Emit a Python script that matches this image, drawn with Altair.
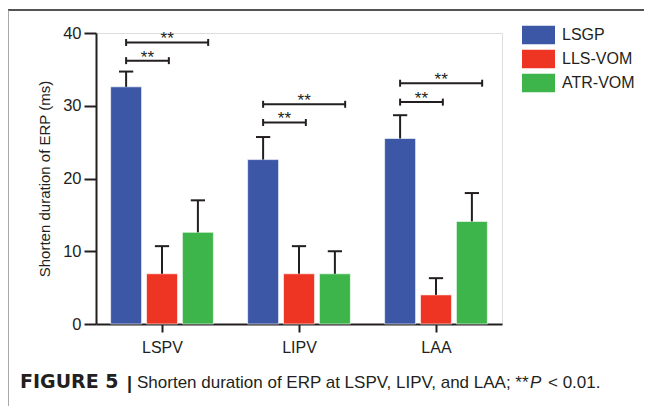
import altair as alt
import pandas as pd

# ---- data ----
sites = ["LSPV", "LIPV", "LAA"]
groups = ["LSGP", "LLS-VOM", "ATR-VOM"]
colors = ["#3D57A7", "#EE3524", "#3DB54A"]

mean_lsgp = [32.6, 22.6, 25.5]
mean_llsvom = [6.9, 6.9, 4.0]
mean_atrvom = [12.6, 6.9, 14.1]
sd_lsgp = [2.1, 3.1, 3.2]
sd_llsvom = [3.8, 3.8, 2.3]
sd_atrvom = [4.4, 3.1, 3.9]

# significance brackets: (site, compared group, bracket level), label
sig_site = ["LSPV", "LSPV", "LIPV", "LIPV", "LAA", "LAA"]
sig_target = ["LLS-VOM", "ATR-VOM", "LLS-VOM", "ATR-VOM", "LLS-VOM", "ATR-VOM"]
sig_level = [36.2, 38.7, 27.7, 30.2, 30.5, 33.1]
sig_label = ["**"] * 6

caption_bold = "FIGURE 5"
caption_bar = "|"
caption_text = "Shorten duration of ERP at LSPV, LIPV, and LAA; **"
caption_p = "P"
caption_end = "< 0.01."

# ---- layout helpers (in x data units: one unit per site) ----
STEP = 0.262
HALF = 0.113
CAP = 0.052
goff = {g: (i - 1) * STEP for i, g in enumerate(groups)}
sidx = {s: i for i, s in enumerate(sites)}

means = [mean_lsgp, mean_llsvom, mean_atrvom]
sds = [sd_lsgp, sd_llsvom, sd_atrvom]
rows = []
for gi, g in enumerate(groups):
    for si, s in enumerate(sites):
        c = si + goff[g]
        m = means[gi][si]
        rows.append(dict(site=s, group=g, c=c, x0=c - HALF, x1=c + HALF,
                         cl=c - CAP, cr=c + CAP, mean=m, top=m + sds[gi][si]))
df = pd.DataFrame(rows)

brows = []
for s, t, lv, lab in zip(sig_site, sig_target, sig_level, sig_label):
    xs = sidx[s] + goff["LSGP"]
    ext = 0.05 if t == "LLS-VOM" else 0.075
    xe = sidx[s] + goff[t] + ext
    brows.append(dict(xs=xs, xe=xe, xm=(xs + xe) / 2, y=lv, lo=lv - 0.48,
                      hi=lv + 0.48, label=lab))
bdf = pd.DataFrame(brows)

INK = "#231F20"
FONT = "Liberation Sans"
xscale = alt.Scale(domain=[-0.4818, 2.4818], nice=False, zero=False)
yscale = alt.Scale(domain=[0, 40], nice=False)

bars = alt.Chart(df).mark_bar(stroke="white", strokeWidth=0.6).encode(
    x=alt.X("x0:Q", scale=xscale,
            axis=alt.Axis(values=[0, 1, 2], title=None, grid=False,
                          labelExpr="['LSPV','LIPV','LAA'][datum.value]",
                          tickSize=8, tickWidth=2, domainWidth=2,
                          domainColor=INK, tickColor=INK, labelColor=INK,
                          labelFontSize=16, labelPadding=7, labelFont=FONT)),
    x2="x1:Q",
    y=alt.Y("mean:Q", scale=yscale,
            axis=alt.Axis(values=[0, 10, 20, 30, 40], grid=False,
                          title="Shorten duration of ERP (ms)",
                          titleFontSize=15, titleFont=FONT, titleFontWeight="normal",
                          titleColor=INK, titlePadding=10,
                          tickSize=12, tickWidth=2, domainWidth=2,
                          domainColor=INK, tickColor=INK, labelColor=INK,
                          labelFontSize=16.5, labelPadding=3, labelFont=FONT)),
    y2=alt.datum(0),
    color=alt.Color("group:N", scale=alt.Scale(domain=groups, range=colors),
                    legend=alt.Legend(
                        title=None, orient="none", legendX=429, legendY=-11.5,
                        symbolType="M-1.222,-0.685H1.222V0.685H-1.222Z",
                        symbolSize=729, symbolStrokeWidth=0, symbolOpacity=1,
                        labelFontSize=16, labelFont=FONT, labelColor=INK,
                        labelOffset=10, rowPadding=1, padding=0)),
)

err = alt.Chart(df).mark_rule(color=INK, strokeWidth=2).encode(
    x="c:Q", y="mean:Q", y2="top:Q")
caps = alt.Chart(df).mark_rule(color=INK, strokeWidth=2).encode(
    x="cl:Q", x2="cr:Q", y="top:Q")

bline = alt.Chart(bdf).mark_rule(color=INK, strokeWidth=2).encode(
    x="xs:Q", x2="xe:Q", y="y:Q")
bend1 = alt.Chart(bdf).mark_rule(color=INK, strokeWidth=2).encode(
    x="xs:Q", y="lo:Q", y2="hi:Q")
bend2 = alt.Chart(bdf).mark_rule(color=INK, strokeWidth=2).encode(
    x="xe:Q", y="lo:Q", y2="hi:Q")
stars = alt.Chart(bdf).mark_text(color=INK, fontSize=17, font=FONT,
                                 baseline="alphabetic", dy=2).encode(
    x="xm:Q", y="y:Q", text="label:N")

# frame and caption
frame_top = alt.Chart(pd.DataFrame({"a": [0]})).mark_rule(
    color="#1a1a1a", strokeWidth=1.5).encode(
    x=alt.value(-88), x2=alt.value(548), y=alt.value(-23))
frame_left = alt.Chart(pd.DataFrame({"a": [0]})).mark_rule(
    color="#8c8c8c", strokeWidth=1.5).encode(
    x=alt.value(-88), y=alt.value(-23), y2=alt.value(380))

cap1 = alt.Chart(pd.DataFrame({"t": [caption_bold]})).mark_text(
    align="left", baseline="alphabetic", fontSize=19, font="DejaVu Sans",
    fontWeight="bold", color=INK).encode(
    x=alt.value(-76), y=alt.value(355), text="t:N")
capbar = alt.Chart(pd.DataFrame({"t": [caption_bar]})).mark_text(
    align="left", baseline="alphabetic", fontSize=18, font=FONT,
    fontWeight="bold", color=INK).encode(
    x=alt.value(31), y=alt.value(356), text="t:N")
cap2 = alt.Chart(pd.DataFrame({"t": [caption_text]})).mark_text(
    align="left", baseline="alphabetic", fontSize=17, font=FONT,
    color=INK).encode(x=alt.value(41), y=alt.value(355), text="t:N")
cap3 = alt.Chart(pd.DataFrame({"t": [caption_p]})).mark_text(
    align="left", baseline="alphabetic", fontSize=17, font=FONT,
    fontStyle="italic", color=INK).encode(x=alt.value(434), y=alt.value(355), text="t:N")
cap4 = alt.Chart(pd.DataFrame({"t": [caption_end]})).mark_text(
    align="left", baseline="alphabetic", fontSize=17, font=FONT,
    color=INK).encode(x=alt.value(452), y=alt.value(355), text="t:N")

chart = alt.layer(bars, err, caps, bline, bend1, bend2, stars,
                  frame_top, frame_left, cap1, capbar, cap2, cap3, cap4).properties(
    width=406, height=291,
    autosize=alt.AutoSizeParams(type="none"),
    padding={"left": 88, "top": 25, "right": 142, "bottom": 82},
).configure_view(stroke=None).configure(background="white")

chart.save("out.html", embed_options={"renderer": "svg", "actions": False})
